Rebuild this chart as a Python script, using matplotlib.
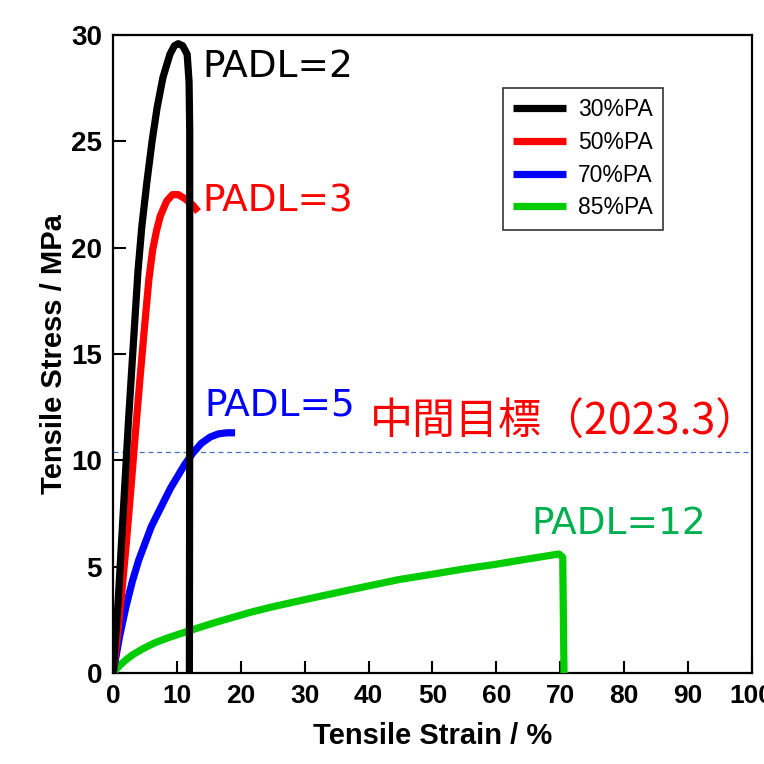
import matplotlib
matplotlib.use("Agg")
import matplotlib.pyplot as plt

# ---- data ----
strain_30 = [0, 0.8, 1.6, 2.4, 3.2, 3.9, 4.5, 5.3, 6.1, 6.9, 7.8, 8.9, 9.6, 10.2, 10.9, 11.6, 11.9, 12.0, 12.0, 11.95]
stress_30 = [0, 3.4, 7.6, 11.8, 15.6, 18.9, 21.0, 23.1, 25.0, 26.6, 28.0, 29.1, 29.5, 29.6, 29.5, 29.1, 27.8, 25.5, 12.0, 0]

strain_50 = [0, 0.7, 1.4, 2.1, 2.8, 3.5, 4.2, 4.9, 5.6, 6.2, 6.8, 7.4, 8.4, 9.3, 10.2, 11.3, 12.5, 13.3]
stress_50 = [0, 1.8, 3.9, 6.2, 8.7, 11.3, 13.8, 16.2, 18.5, 19.9, 20.8, 21.5, 22.2, 22.5, 22.5, 22.3, 22.0, 21.7]

strain_70 = [0, 1.0, 2.0, 3.0, 4.0, 5.0, 6.0, 7.0, 8.0, 9.0, 10.0, 11.2, 12.5, 13.8, 15.2, 16.5, 17.8, 19.1]
stress_70 = [0, 1.7, 3.1, 4.3, 5.3, 6.1, 6.9, 7.5, 8.1, 8.7, 9.2, 9.8, 10.35, 10.8, 11.1, 11.25, 11.3, 11.3]

strain_85 = [0, 1.0, 2.0, 3.0, 4.7, 6.5, 8.5, 12.0, 16.0, 21.4, 25.0, 29.2, 35.0, 40.0, 44.8, 50.0, 55.0, 60.0, 65.0, 69.8, 70.4, 70.6]
stress_85 = [0, 0.35, 0.62, 0.85, 1.15, 1.42, 1.65, 2.0, 2.38, 2.85, 3.12, 3.4, 3.78, 4.1, 4.4, 4.65, 4.9, 5.12, 5.37, 5.6, 5.45, 0]

series_labels = ["30%PA", "50%PA", "70%PA", "85%PA"]
series_colors = ["#000000", "#FF0000", "#0000FF", "#00CC00"]

target_stress = 10.4
x_ticks = [0, 10, 20, 30, 40, 50, 60, 70, 80, 90, 100]
y_ticks = [0, 5, 10, 15, 20, 25, 30]

fig = plt.figure(figsize=(7.64, 7.64), dpi=100)
ax = fig.add_axes([0.148, 0.119, 0.836, 0.835])

xs = [strain_30, strain_50, strain_70, strain_85]
ys = [stress_30, stress_50, stress_70, stress_85]
order = [3, 2, 1, 0]
for i in order:
    ax.plot(xs[i], ys[i], color=series_colors[i], lw=5.2, label=series_labels[i],
            solid_joinstyle="round", solid_capstyle="butt", zorder=3 + (3 - i))

ax.axhline(target_stress, color="#4472C4", lw=0.9, ls=(0, (4, 3)), zorder=2)

ax.set_xlim(0, 100)
ax.set_ylim(0, 30)
ax.set_xticks(x_ticks)
ax.set_yticks(y_ticks)
for s in ax.spines.values():
    s.set_linewidth(1.6)
ax.tick_params(direction="in", length=9, width=1.5, top=False, right=False, pad=8)

bold_font = ["Liberation Sans", "DejaVu Sans"]
for t in ax.get_xticklabels():
    t.set_fontfamily(bold_font)
    t.set_fontweight("bold")
    t.set_fontsize(19)
for t in ax.get_yticklabels():
    t.set_fontfamily(bold_font)
    t.set_fontweight("bold")
    t.set_fontsize(20)

ax.set_xlabel("Tensile Strain / %", fontfamily=bold_font, fontweight="bold", fontsize=21, labelpad=10)
ax.set_ylabel("Tensile Stress / MPa", fontfamily=bold_font, fontweight="bold", fontsize=21, labelpad=2)

handles, labels = ax.get_legend_handles_labels()
hmap = dict(zip(labels, handles))
leg = ax.legend([hmap[l] for l in series_labels], series_labels, loc="upper left",
                bbox_to_anchor=(0.61, 0.917), frameon=True, fancybox=False,
                edgecolor="black", handlelength=2.3, handletextpad=0.55,
                labelspacing=0.42, borderpad=0.45, borderaxespad=0.0,
                prop={"family": bold_font, "size": 16.5})
leg.get_frame().set_linewidth(1.2)

ann_font = ["DejaVu Sans"]
ax.text(14.0, 28.5, "PADL=2", color="black", fontsize=27, family=ann_font, va="center", ha="left")
ax.text(14.0, 22.2, "PADL=3", color="#FF0000", fontsize=27, family=ann_font, va="center", ha="left")
ax.text(14.3, 12.6, "PADL=5", color="#0000FF", fontsize=27, family=ann_font, va="center", ha="left")
ax.text(65.5, 7.0, "PADL=12", color="#00B050", fontsize=27, family=ann_font, va="center", ha="left")
ax.text(40.2, 11.75, "中間目標（2023.3）", color="#FF0000", fontsize=31,
        family=["Noto Sans CJK JP", "DejaVu Sans"], va="center", ha="left")

fig.savefig("out.png", dpi=100)
